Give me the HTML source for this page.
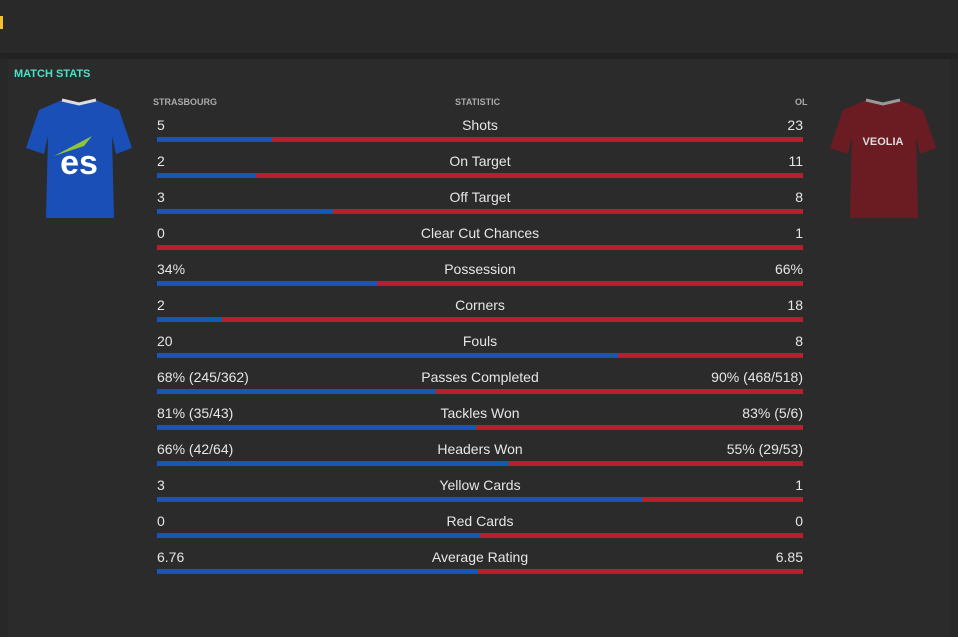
<!DOCTYPE html>
<html><head><meta charset="utf-8"><style>
body{margin:0;width:958px;height:637px;background:#282828;font-family:"Liberation Sans",sans-serif;position:relative;overflow:hidden}
.top{position:absolute;left:0;top:0;width:958px;height:53px;background:#292929}
.sep{position:absolute;left:0;top:53px;width:958px;height:6px;background:#222}
.panel{position:absolute;left:8px;top:59px;width:942px;height:578px;background:#2b2b2b}
.yl{position:absolute;left:0;top:16px;width:3px;height:13px;background:#f2c12e}
.t{position:absolute;color:#e6e6e6;font-size:14px;line-height:16px;white-space:nowrap}
.h{position:absolute;color:#aaa;font-size:9px;font-weight:bold;top:97px}
.bar{position:absolute;left:157px;width:646px;height:5px;background:#b51f30}
.bar div{height:5px;background:#1656bb}
</style></head><body>
<div class="top"></div><div class="sep"></div><div class="panel"></div><div class="yl"></div>
<div style="position:absolute;left:14px;top:68px;color:#4fe0c8;font-size:11px;font-weight:bold">MATCH STATS</div>
<div class="h" style="left:153px">STRASBOURG</div>
<div class="h" style="left:455px">STATISTIC</div>
<div class="h" style="left:795px">OL</div>
<svg style="position:absolute;left:24px;top:96px" width="110" height="125" viewBox="0 0 110 125">
<path d="M38 4 L55 8 L72 4 L95 14 L108 52 L92 58 L88 40 L90 122 L22 122 L24 40 L20 58 L2 52 L15 14Z" fill="#1a4fb8"/>
<path d="M38 4 L55 8 L72 4" stroke="#ddd" stroke-width="3" fill="none"/>
<path d="M30 60 L68 40 L60 50Z" fill="#8fc43b"/>
<text x="55" y="78" fill="#fff" font-size="34" font-weight="bold" text-anchor="middle" font-family="Liberation Sans">es</text>
</svg>
<svg style="position:absolute;left:828px;top:96px" width="110" height="125" viewBox="0 0 110 125">
<path d="M38 4 L55 8 L72 4 L95 14 L108 52 L92 58 L88 40 L90 122 L22 122 L24 40 L20 58 L2 52 L15 14Z" fill="#6b1c22"/>
<path d="M38 4 L55 8 L72 4" stroke="#999" stroke-width="3" fill="none"/>
<text x="55" y="49" fill="#ddd" font-size="11" font-weight="bold" text-anchor="middle" font-family="Liberation Sans">VEOLIA</text>
</svg>
<div id="rows"></div>
<script>
const d=[["5","Shots","23",.178],["2","On Target","11",.154],["3","Off Target","8",.273],["0","Clear Cut Chances","1",0],["34%","Possession","66%",.34],["2","Corners","18",.1],["20","Fouls","8",.714],["68% (245/362)","Passes Completed","90% (468/518)",.43],["81% (35/43)","Tackles Won","83% (5/6)",.494],["66% (42/64)","Headers Won","55% (29/53)",.545],["3","Yellow Cards","1",.75],["0","Red Cards","0",.5],["6.76","Average Rating","6.85",.497]];
let h="";d.forEach((r,i)=>{const y=117+i*36;
h+=`<div class="t" style="left:157px;top:${y}px">${r[0]}</div><div class="t" style="left:380px;width:200px;text-align:center;top:${y}px">${r[1]}</div><div class="t" style="right:155px;top:${y}px">${r[2]}</div><div class="bar" style="top:${y+20}px"><div style="width:${(r[3]*646).toFixed(0)}px"></div></div>`;});
document.getElementById("rows").innerHTML=h;
</script>
</body></html>
